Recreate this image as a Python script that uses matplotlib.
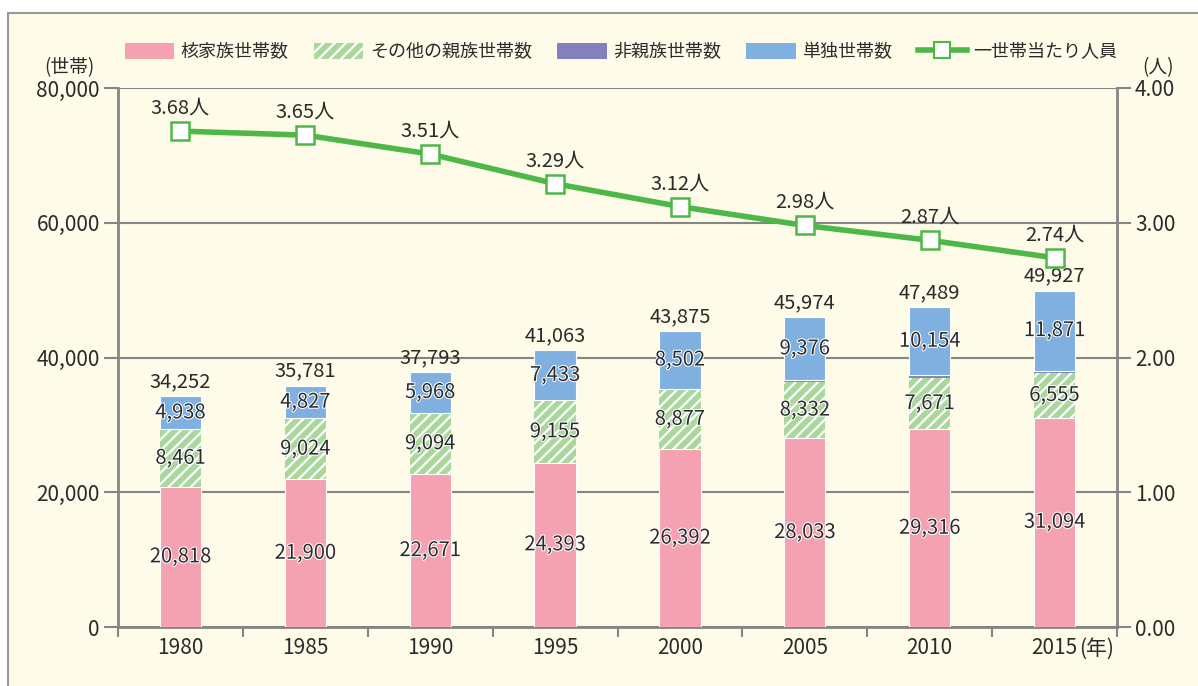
import numpy as np
import matplotlib.pyplot as plt
import matplotlib.patheffects as pe
from matplotlib.patches import Patch, Rectangle
from matplotlib.lines import Line2D

plt.rcParams['font.family'] = ['Noto Sans CJK JP', 'DejaVu Sans']
plt.rcParams['hatch.linewidth'] = 1.6

years = ['1980', '1985', '1990', '1995', '2000', '2005', '2010', '2015']
nuclear = [20818, 21900, 22671, 24393, 26392, 28033, 29316, 31094]
other_rel = [8461, 9024, 9094, 9155, 8877, 8332, 7671, 6555]
non_rel = [35, 30, 60, 82, 104, 233, 348, 407]
single = [4938, 4827, 5968, 7433, 8502, 9376, 10154, 11871]
totals = [34252, 35781, 37793, 41063, 43875, 45974, 47489, 49927]
persons = [3.68, 3.65, 3.51, 3.29, 3.12, 2.98, 2.87, 2.74]

BG = '#fffbe9'
PINK = '#f4a1b1'
GREEN = '#a9d79c'
PURPLE = '#8382bf'
BLUE = '#7fb0e0'
LINE = '#4db848'
AXIS = '#858585'
TXT = '#2b2b2b'

fig = plt.figure(figsize=(11.98, 6.86), dpi=100, facecolor='white')
fig.patches.append(Rectangle((8 / 1198, -0.01), 1.0, 1 - 13 / 686 + 0.01,
                             transform=fig.transFigure, facecolor=BG,
                             edgecolor='#999999', linewidth=1.5, zorder=-10))

ax = fig.add_axes([118 / 1198, 59 / 686, 999 / 1198, 539 / 686])
ax.set_facecolor('none')
x = np.arange(len(years))
w = 0.33

b0 = np.zeros(len(years))
ax.bar(x, nuclear, w, bottom=b0, color=PINK, edgecolor='white', linewidth=0.8, zorder=3)
b1 = b0 + nuclear
ax.bar(x, other_rel, w, bottom=b1, color=GREEN, edgecolor='white', linewidth=0, hatch='///', zorder=3)
b2 = b1 + other_rel
ax.bar(x, non_rel, w, bottom=b2, color=PURPLE, linewidth=0, zorder=3)
b3 = b2 + non_rel
ax.bar(x, single, w, bottom=b3, color=BLUE, edgecolor='white', linewidth=0.8, zorder=3)

fs = 14.5
tfs = 15
halo = [pe.withStroke(linewidth=1.5, foreground='white')]
for i in range(len(years)):
    ax.text(x[i], nuclear[i] / 2, f'{nuclear[i]:,}', ha='center', va='center', fontsize=fs,
            color=TXT, zorder=5, path_effects=halo)
    ax.text(x[i], b1[i] + other_rel[i] / 2, f'{other_rel[i]:,}', ha='center', va='center',
            fontsize=fs, color=TXT, zorder=5, path_effects=halo)
    ax.text(x[i], b3[i] + single[i] / 2, f'{single[i]:,}', ha='center', va='center',
            fontsize=fs, color=TXT, zorder=5, path_effects=halo)
    ax.annotate(f'{totals[i]:,}', (x[i], totals[i]), xytext=(0, 3), textcoords='offset points',
                ha='center', va='bottom', fontsize=fs, color=TXT, zorder=5)

ax.set_xlim(-0.5, len(years) - 0.5)
ax.set_ylim(0, 80000)
ax.set_yticks(np.arange(0, 80001, 20000))
ax.set_yticklabels([f'{v:,}' for v in range(0, 80001, 20000)])
ax.grid(axis='y', color=AXIS, linewidth=1.5, zorder=0)
ax.set_xticks(x)
ax.set_xticklabels(years)
ax.set_xticks(np.arange(-0.5, len(years)), minor=True)
ax.tick_params(axis='x', which='major', length=0, pad=7, labelsize=tfs, labelcolor=TXT)
ax.tick_params(axis='x', which='minor', length=7, width=1.5, color=AXIS, direction='out')
ax.tick_params(axis='y', length=10, width=1.5, color=AXIS, labelsize=tfs, labelcolor=TXT, pad=3)
for s in ['top', 'right']:
    ax.spines[s].set_visible(False)
for s in ['left', 'bottom']:
    ax.spines[s].set_color(AXIS)
    ax.spines[s].set_linewidth(2)
ax.annotate('(年)', (x[-1], 0), xytext=(17.5, -8), textcoords='offset points',
            ha='left', va='top', fontsize=tfs, color=TXT)

ax2 = ax.twinx()
ax2.set_ylim(0, 4)
ax2.set_yticks(np.arange(0, 4.01, 1))
ax2.set_yticklabels([f'{v:.2f}' for v in np.arange(0, 4.01, 1)])
ax2.tick_params(axis='y', length=10, width=1.5, color=AXIS, labelsize=tfs, labelcolor=TXT, pad=3)
for s in ['top', 'left', 'bottom']:
    ax2.spines[s].set_visible(False)
ax2.spines['right'].set_color(AXIS)
ax2.spines['right'].set_linewidth(2)
ax2.plot(x, persons, color=LINE, linewidth=4, marker='s', markersize=13,
         markerfacecolor='white', markeredgecolor=LINE, markeredgewidth=1.8, zorder=6)
for i in range(len(years)):
    ax2.annotate(f'{persons[i]:.2f}人', (x[i], persons[i]), xytext=(0, 9), textcoords='offset points',
                 ha='center', va='bottom', fontsize=fs, color=TXT)

fig.text(69 / 1198, 1 - 68 / 686, '(世帯)', ha='center', va='center', fontsize=13.5, color=TXT)
fig.text(1158 / 1198, 1 - 68 / 686, '(人)', ha='center', va='center', fontsize=13.5, color=TXT)

handles = [
    Patch(facecolor=PINK, edgecolor='none'),
    Patch(facecolor=GREEN, edgecolor='white', hatch='///', linewidth=0),
    Patch(facecolor=PURPLE, edgecolor='none'),
    Patch(facecolor=BLUE, edgecolor='none'),
    Line2D([], [], color=LINE, linewidth=4, marker='s', markersize=11,
           markerfacecolor='white', markeredgecolor=LINE, markeredgewidth=1.5),
]
labels = ['核家族世帯数', 'その他の親族世帯数', '非親族世帯数', '単独世帯数', '一世帯当たり人員']
fig.legend(handles, labels, loc='center', bbox_to_anchor=(621 / 1198, 1 - 52 / 686), ncol=5,
           frameon=False, fontsize=13, handlelength=2.75, handleheight=1.0,
           columnspacing=1.4, handletextpad=0.35, labelcolor=TXT)

fig.savefig('out.png', dpi=100, facecolor=fig.get_facecolor())
